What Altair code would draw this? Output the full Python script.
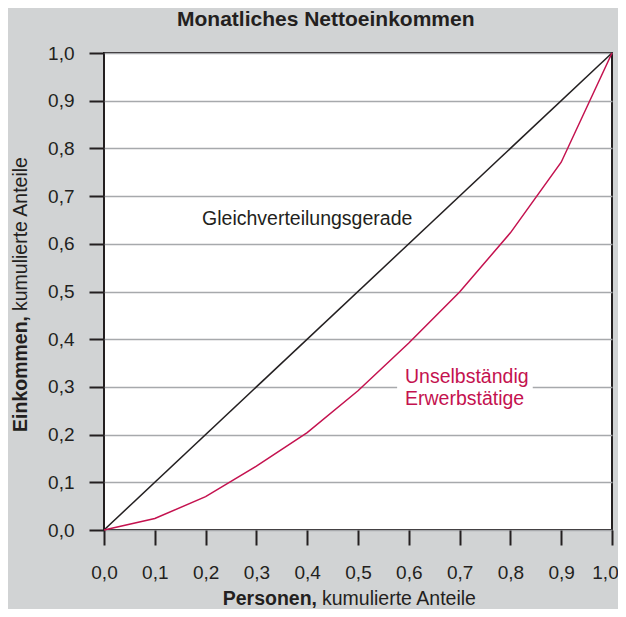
import altair as alt
import pandas as pd

# --- data ---
persons = [0.0, 0.1, 0.2, 0.3, 0.4, 0.5, 0.6, 0.7, 0.8, 0.9, 1.0]
income = [0.0, 0.024, 0.070, 0.134, 0.204, 0.292, 0.392, 0.499, 0.623, 0.771, 1.0]
equal_x = [0.0, 1.0]
equal_y = [0.0, 1.0]
tick_values = [0.0, 0.1, 0.2, 0.3, 0.4, 0.5, 0.6, 0.7, 0.8, 0.9, 1.0]

TITLE = "Monatliches Nettoeinkommen"
X_BOLD, X_REG = "Personen,", "kumulierte Anteile"
Y_BOLD, Y_REG = "Einkommen,", "kumulierte Anteile"
EQ_LABEL = "Gleichverteilungsgerade"
LZ_LABEL = ["Unselbständig", "Erwerbstätige"]

FONT = "Liberation Sans"
DARK = "#231f20"
RED = "#c4124f"
GRID = "#a7a9ac"
BG = "#d1d3d4"

lorenz_df = pd.DataFrame({"x": persons, "y": income})
equal_df = pd.DataFrame({"x": equal_x, "y": equal_y})

label_expr = "replace(format(datum.value, '.1f'), '.', ',')"

xscale = alt.Scale(domain=[0, 1], nice=False, zero=False)
yscale = alt.Scale(domain=[0, 1], nice=False, zero=False)

x_axis = alt.Axis(values=tick_values, labelExpr=label_expr, title=None, grid=False,
                  domain=False, tickSize=15, tickWidth=2, tickColor=DARK,
                  labelFont=FONT, labelFontSize=19, labelColor=DARK, labelPadding=18,
                  labelFlush=False, labelOverlap=False,
                  labelOffset={"expr": "datum.value >= 1 ? -7 : 0"})
y_axis = alt.Axis(values=tick_values, labelExpr=label_expr, title=None, grid=True,
                  gridColor=GRID, gridWidth=1.5, domain=False, tickSize=15,
                  tickWidth=2, tickColor=DARK, labelFont=FONT, labelFontSize=19,
                  labelColor=DARK, labelPadding=15, labelFlush=False, labelOverlap=False)

base_x = alt.X("x:Q", scale=xscale, axis=x_axis)
base_y = alt.Y("y:Q", scale=yscale, axis=y_axis)

# white box behind the series label (hides the gridline)
box = alt.Chart(pd.DataFrame({"x": [0.577], "x2": [0.844], "y": [0.28], "y2": [0.325]})).mark_rect(
    color="white").encode(x=alt.X("x:Q", scale=xscale, axis=x_axis), x2="x2:Q",
                          y=alt.Y("y:Q", scale=yscale, axis=y_axis), y2="y2:Q")

equal_line = alt.Chart(equal_df).mark_line(color=DARK, strokeWidth=1.5).encode(x=base_x, y=base_y)
lorenz_line = alt.Chart(lorenz_df).mark_line(color=RED, strokeWidth=1.5).encode(x=base_x, y=base_y)

eq_text = alt.Chart(pd.DataFrame({"x": [0.193], "y": [0.639], "t": [EQ_LABEL]})).mark_text(
    align="left", baseline="alphabetic", font=FONT, fontSize=19.5, color=DARK
).encode(x="x:Q", y="y:Q", text="t:N")

lz_text = alt.Chart(pd.DataFrame({"x": [0.5925, 0.5925], "y": [0.308, 0.262], "t": LZ_LABEL})).mark_text(
    align="left", baseline="alphabetic", font=FONT, fontSize=19.5, color=RED
).encode(x="x:Q", y="y:Q", text="t:N")

one = pd.DataFrame({"a": [0]})

title_text = alt.Chart(one).mark_text(
    text=TITLE, align="left", baseline="alphabetic", font=FONT, fontSize=21,
    fontWeight="bold", color=DARK
).encode(x=alt.value(73), y=alt.value(-27))

xt_bold = alt.Chart(one).mark_text(
    text=X_BOLD, align="right", baseline="alphabetic", font=FONT, fontSize=19.5,
    fontWeight="bold", color=DARK
).encode(x=alt.value(213), y=alt.value(552))
xt_reg = alt.Chart(one).mark_text(
    text=X_REG, align="left", baseline="alphabetic", font=FONT, fontSize=19.5,
    color=DARK
).encode(x=alt.value(218), y=alt.value(552))

yt_bold = alt.Chart(one).mark_text(
    text=Y_BOLD, align="right", baseline="alphabetic", font=FONT, fontSize=19.5,
    fontWeight="bold", color=DARK, angle=270
).encode(x=alt.value(-77), y=alt.value(263))
yt_reg = alt.Chart(one).mark_text(
    text=Y_REG, align="left", baseline="alphabetic", font=FONT, fontSize=19.5,
    color=DARK, angle=270
).encode(x=alt.value(-77), y=alt.value(258))

chart = alt.layer(
    box, equal_line, lorenz_line, eq_text, lz_text,
    title_text, xt_bold, xt_reg, yt_bold, yt_reg
).properties(
    width=508, height=477,
    autosize=alt.AutoSizeParams(type="none"),
    padding={"left": 96, "top": 45, "right": 6, "bottom": 79},
    background=BG,
).configure_view(
    fill="white", stroke=DARK, strokeWidth=2
)

chart.save("out.html", embed_options={"renderer": "svg", "actions": False})
